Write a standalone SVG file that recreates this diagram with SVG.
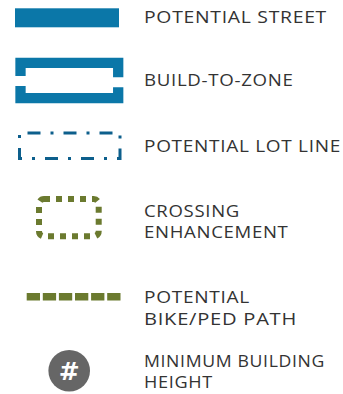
<svg xmlns="http://www.w3.org/2000/svg" width="343" height="394" viewBox="0 0 343 394">
<style>
.lbl{font-family:"Open Sans","Liberation Sans",Arial,sans-serif;font-weight:500;font-size:16.3px;letter-spacing:0.6px;fill:#333333;}
.blue{fill:none;stroke:#0b77a8;stroke-width:10.3;stroke-linecap:butt;stroke-linejoin:miter;}
</style>
<rect width="343" height="394" fill="#ffffff"/>
<g id="potential-street">
<rect x="15" y="8.3" width="104" height="19" fill="#0b77a8"/>
<text class="lbl" x="144" y="22.5" textLength="183" lengthAdjust="spacingAndGlyphs">POTENTIAL STREET</text>
</g>
<g id="build-to-zone">
<path class="blue" d="M20.5,76 V62.9 H118.2 V77.3"/>
<path class="blue" d="M20.5,86 V98.2 H118.2 V87.3"/>
<text class="lbl" x="144" y="85.5" textLength="149.5" lengthAdjust="spacingAndGlyphs">BUILD-TO-ZONE</text>
</g>
<g id="potential-lot-line">
<rect x="19.5" y="133" width="100.5" height="25.5" fill="none" stroke="#0d5f8c" stroke-width="3" stroke-dasharray="13 10 3 10" stroke-dashoffset="-8"/>
<text class="lbl" x="144" y="151.5" textLength="197" lengthAdjust="spacingAndGlyphs">POTENTIAL LOT LINE</text>
</g>
<g id="crossing-enhancement">
<rect x="39" y="199" width="59.7" height="37.3" rx="5" fill="none" stroke="#6b7a2f" stroke-width="6" stroke-dasharray="6 6"/>
<text class="lbl" x="144" y="216.5" textLength="96" lengthAdjust="spacingAndGlyphs">CROSSING</text>
<text class="lbl" x="144" y="238" textLength="144.5" lengthAdjust="spacingAndGlyphs">ENHANCEMENT</text>
</g>
<g id="bike-ped-path">
<line x1="26.7" y1="296.7" x2="120.7" y2="296.7" stroke="#6b7a2f" stroke-width="7.5" stroke-dasharray="13.3 2.8"/>
<text class="lbl" x="144" y="303" textLength="106" lengthAdjust="spacingAndGlyphs">POTENTIAL</text>
<text class="lbl" x="144" y="324.5" textLength="153" lengthAdjust="spacingAndGlyphs">BIKE/PED PATH</text>
</g>
<g id="min-building-height">
<circle cx="69.2" cy="370.8" r="20.8" fill="#666666"/>
<text x="69.2" y="379.8" text-anchor="middle" font-family="DejaVu Sans,sans-serif" font-weight="bold" font-size="25" fill="#ffffff">#</text>
<text class="lbl" x="144" y="367" textLength="181" lengthAdjust="spacingAndGlyphs">MINIMUM BUILDING</text>
<text class="lbl" x="144" y="388" textLength="69" lengthAdjust="spacingAndGlyphs">HEIGHT</text>
</g>
</svg>
